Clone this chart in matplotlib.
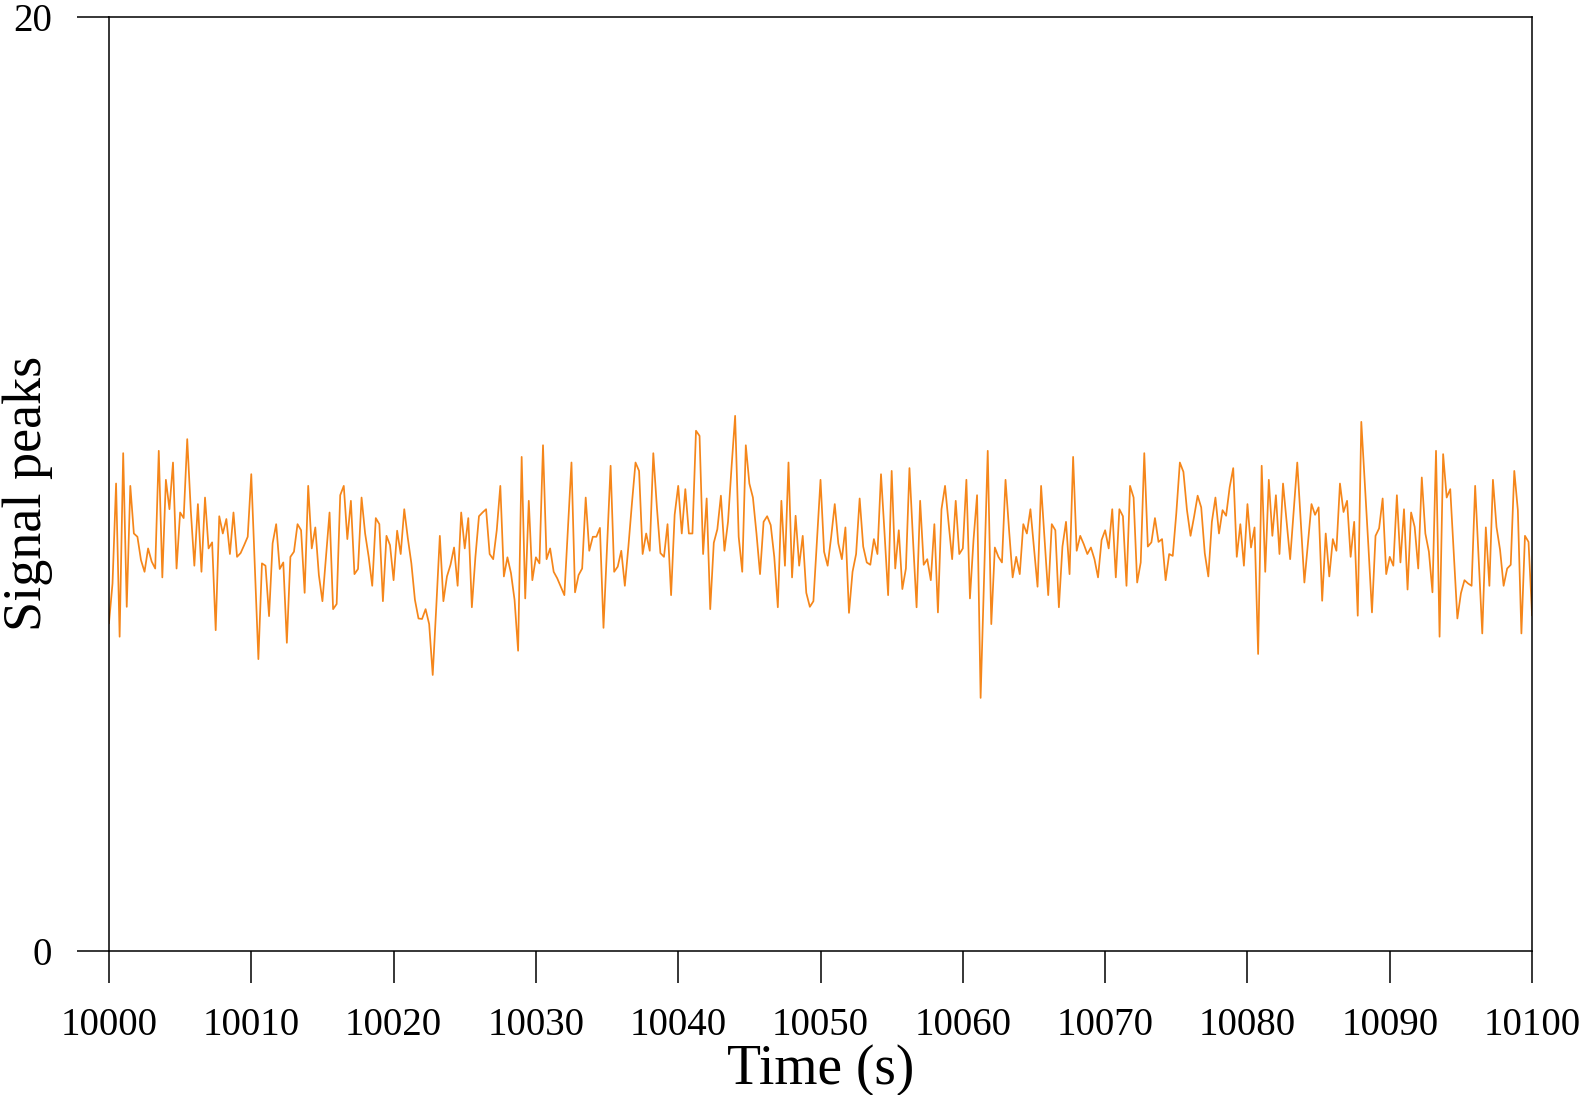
import numpy as np
import matplotlib
matplotlib.use("Agg")
import matplotlib.pyplot as plt

# sample spacing of the trace (s) and its first time stamp
t_start = 10000
t_step = 0.25

# signal peaks, in chunks of roughly 9 s
peaks_00 = [7.02, 7.87, 10.01, 6.73, 10.66, 7.37, 9.96, 8.94, 8.87, 8.37, 8.12, 8.62, 8.34,
            8.19, 10.71, 8.00, 10.09, 9.46, 10.46, 8.19, 9.39, 9.27, 10.96, 9.44, 8.25, 9.57,
            8.12, 9.71, 8.62, 8.75, 6.87, 9.31, 8.94, 9.25, 8.50, 9.39, 8.44]
peaks_09 = [8.52, 8.69, 8.87, 10.21, 8.23, 6.25, 8.30, 8.25, 7.17, 8.73, 9.14, 8.18, 8.32,
            6.60, 8.44, 8.55, 9.14, 9.01, 7.67, 9.96, 8.62, 9.07, 8.05, 7.49, 8.44, 9.39,
            7.32, 7.43, 9.76, 9.96, 8.82, 9.64, 8.07, 8.18, 9.71, 8.94]
peaks_18 = [8.44, 7.82, 9.27, 9.14, 7.49, 8.89, 8.69, 7.94, 9.00, 8.50, 9.46, 8.84, 8.30,
            7.52, 7.12, 7.11, 7.32, 7.00, 5.91, 7.37, 8.89, 7.49, 8.02, 8.27, 8.64, 7.82,
            9.39, 8.62, 9.27, 7.36, 8.44, 9.31, 9.39, 9.46, 8.50, 8.39, 9.01]
peaks_27 = [9.96, 8.02, 8.43, 8.09, 7.52, 6.43, 10.58, 7.55, 9.64, 7.94, 8.43, 8.30, 10.83,
            8.39, 8.62, 8.12, 7.98, 7.80, 7.62, 9.05, 10.46, 7.68, 8.05, 8.19, 9.71, 8.57,
            8.87, 8.87, 9.06, 6.92, 8.66, 10.39, 8.12, 8.23, 8.57, 7.82]
peaks_36 = [8.66, 9.59, 10.46, 10.28, 8.50, 8.94, 8.57, 10.66, 9.51, 8.52, 8.44, 9.14, 7.62,
            9.34, 9.96, 8.94, 9.89, 8.94, 8.94, 11.14, 11.03, 8.50, 9.69, 7.32, 8.74, 9.03,
            9.75, 8.57, 9.19, 10.37, 11.46, 8.87, 8.12, 10.83, 10.01, 9.71, 8.94]
peaks_46 = [8.07, 9.19, 9.31, 9.12, 8.44, 7.36, 9.64, 8.25, 10.46, 8.00, 9.32, 8.25, 8.89,
            7.67, 7.37, 7.49, 8.80, 10.09, 8.55, 8.25, 8.87, 9.57, 8.73, 8.39, 9.07, 7.24,
            8.12, 8.50, 9.69, 8.66, 8.32, 8.27, 8.82, 8.50, 10.21, 8.94]
peaks_55 = [7.62, 10.28, 8.19, 9.01, 7.75, 8.19, 10.34, 8.80, 7.36, 9.64, 8.27, 8.39, 7.94,
            9.14, 7.25, 9.46, 9.96, 9.16, 8.39, 9.64, 8.50, 8.62, 10.09, 7.55, 8.80, 9.76,
            5.42, 8.09, 10.71, 7.00, 8.64, 8.44, 8.32, 10.09, 9.01, 8.00, 8.44]
peaks_64 = [8.07, 9.14, 8.94, 9.46, 8.62, 7.80, 9.96, 8.80, 7.62, 9.14, 9.01, 7.36, 8.66,
            9.19, 8.07, 10.58, 8.57, 8.89, 8.71, 8.50, 8.64, 8.39, 8.00, 8.80, 9.01, 8.62,
            9.46, 8.00, 9.46, 9.31, 7.82, 9.96, 9.71, 7.89, 8.32, 10.66]
peaks_73 = [8.66, 8.75, 9.27, 8.76, 8.82, 7.94, 8.50, 8.46, 9.37, 10.46, 10.26, 9.44, 8.89,
            9.30, 9.75, 9.50, 8.52, 8.02, 9.19, 9.71, 8.94, 9.44, 9.32, 9.93, 10.34, 8.44,
            9.14, 8.25, 9.57, 8.64, 9.07, 6.36, 10.39, 8.12, 10.09, 8.89, 9.76]
peaks_82 = [8.50, 10.01, 9.19, 8.39, 9.41, 10.46, 9.17, 7.89, 8.73, 9.57, 9.34, 9.50, 7.50,
            8.94, 8.02, 8.82, 8.57, 10.01, 9.40, 9.64, 8.44, 9.19, 7.18, 11.33, 10.01, 8.66,
            7.25, 8.89, 9.05, 9.69, 8.07, 8.44, 8.25, 9.76, 8.32, 9.46]
peaks_91 = [7.74, 9.39, 9.08, 8.19, 10.14, 8.94, 8.55, 7.68, 10.71, 6.73, 10.64, 9.71, 9.89,
            8.52, 7.12, 7.66, 7.94, 7.87, 7.82, 9.96, 8.37, 6.80, 9.07, 7.82, 10.09, 9.08,
            8.59, 7.82, 8.19, 8.27, 10.28, 9.44, 6.80, 8.89, 8.76, 7.19]

x_ticks = list(range(10000, 10101, 10))
y_ticks = [0, 20]

peaks = np.array(peaks_00 + peaks_09 + peaks_18 + peaks_27 + peaks_36 + peaks_46 +
                 peaks_55 + peaks_64 + peaks_73 + peaks_82 + peaks_91)
time = t_start + t_step * np.arange(len(peaks))

plt.rcParams['font.family'] = ['Liberation Serif', 'DejaVu Serif']

fig = plt.figure(figsize=(15.86, 10.95), dpi=100)
ax = fig.add_axes([0.0687, 0.1315, 0.8973, 0.853])

ax.plot(time, peaks, color='#f5861a', linewidth=1.25)

ax.set_xlim(10000, 10100)
ax.set_ylim(0, 20)
ax.set_xticks(x_ticks)
ax.set_yticks(y_ticks)
ax.tick_params(axis='both', direction='out', length=23, width=1.1, labelsize=28)
ax.tick_params(axis='x', pad=17)
ax.tick_params(axis='y', pad=18)
for s in ax.spines.values():
    s.set_linewidth(1.1)

ax.set_xlabel('Time (s)', fontsize=40, labelpad=0)
ax.set_ylabel('Signal peaks', fontsize=39)
ax.yaxis.set_label_coords(-0.039, 0.49)

fig.savefig('out.png', dpi=100)
